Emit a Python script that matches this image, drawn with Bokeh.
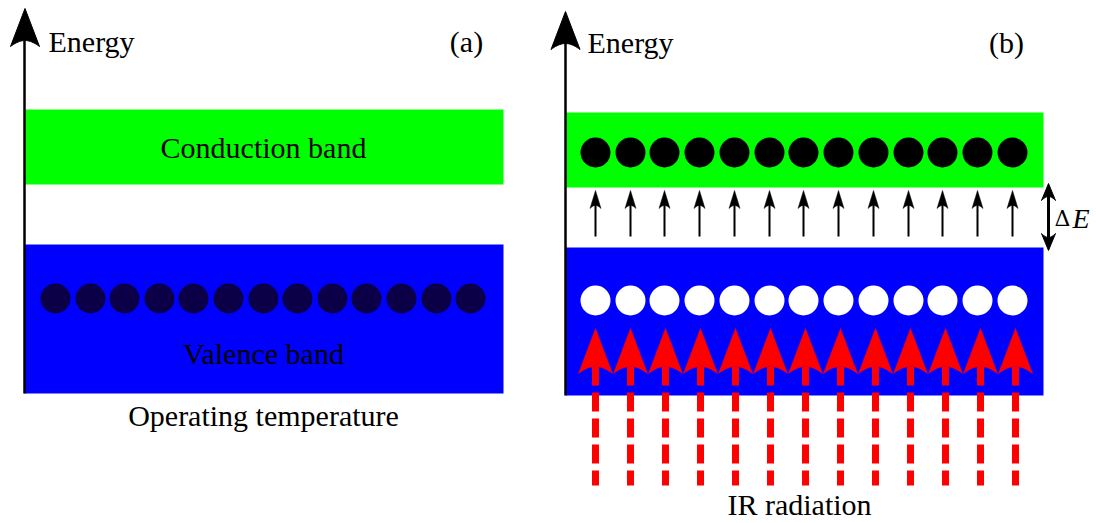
from bokeh.plotting import figure
from bokeh.models import Range1d
from bokeh.core.properties import value
from bokeh.embed import file_html
from bokeh.resources import INLINE

# ---------------- data (diagram positions in image pixels) ----------------
electrons_a_x = [55, 90, 124, 159, 193, 228, 263, 297, 332, 366, 401, 436, 470]
electrons_b_x = [595, 630, 664, 699, 734, 769, 803, 838, 873, 908, 942, 977, 1012]
ir_x = [595, 630, 665, 700, 735, 770, 805, 840, 875, 910, 945, 980, 1015]

# bands: left, right, top, bottom
band_left = [24, 24, 565, 565]
band_right = [503, 503, 1043, 1043]
band_top = [109, 244, 112, 247]
band_bottom = [184, 393, 187, 395]
band_color = ["#00ff00", "#0000ff", "#00ff00", "#0000ff"]

labels = ["Energy", "(a)", "Conduction band", "Valence band", "Operating temperature",
          "Energy", "(b)", "IR radiation"]
label_x = [48, 466, 263, 263, 263, 587, 1006, 799]
label_y = [41, 41, 147, 353, 415, 42, 42, 504]
label_align = ["left", "center", "center", "center", "center", "left", "center", "center"]

FONT = value("Liberation Serif")

p = figure(width=1096, height=523, x_range=Range1d(0, 1096), y_range=Range1d(523, 0),
           output_backend="svg", toolbar_location=None, x_axis_type=None, y_axis_type=None,
           min_border=0, outline_line_color=None)
p.grid.visible = False


def stealth(xc, tip_y, length, half_w, notch, s=1, n=10):
    """Return polygon xs, ys of a stealth arrow head; s=1 points up on screen."""
    base_y = tip_y + s * length
    notch_y = base_y - s * notch
    xs = [xc, xc + half_w]
    ys = [tip_y, base_y]
    cx, cy = xc + half_w * 0.45, notch_y
    for i in range(1, n + 1):
        t = i / n
        xs.append((1 - t) ** 2 * (xc + half_w) + 2 * (1 - t) * t * cx + t ** 2 * xc)
        ys.append((1 - t) ** 2 * base_y + 2 * (1 - t) * t * cy + t ** 2 * notch_y)
    cx = xc - half_w * 0.45
    for i in range(1, n + 1):
        t = i / n
        xs.append((1 - t) ** 2 * xc + 2 * (1 - t) * t * cx + t ** 2 * (xc - half_w))
        ys.append((1 - t) ** 2 * notch_y + 2 * (1 - t) * t * cy + t ** 2 * base_y)
    return xs, ys


# bands
p.quad(left=band_left, right=band_right, top=band_top, bottom=band_bottom,
       fill_color=band_color, line_color=None)

# energy axes
p.segment(x0=[24, 565], y0=[393, 395], x1=[24, 565], y1=[30, 32], line_color="black", line_width=2.5)
hx, hy = [], []
for xc, ty in [(24.5, 8), (565, 11)]:
    a, b = stealth(xc, ty, 38, 14.5, 6)
    hx.append(a); hy.append(b)
p.patches(hx, hy, fill_color="black", line_color="black", line_width=1)

# electrons
p.scatter(electrons_a_x, [298] * len(electrons_a_x), size=30, fill_color="#0b0048", line_color=None)
p.scatter(electrons_b_x, [152] * len(electrons_b_x), size=30, fill_color="black", line_color=None)
p.scatter(electrons_b_x, [300] * len(electrons_b_x), size=30, fill_color="white", line_color=None)

# small excitation arrows
p.segment(x0=electrons_b_x, y0=[236] * 13, x1=electrons_b_x, y1=[200] * 13, line_color="black", line_width=2)
sx, sy = [], []
for xc in electrons_b_x:
    a, b = stealth(xc, 190, 18, 5.5, 3)
    sx.append(a); sy.append(b)
p.patches(sx, sy, fill_color="black", line_color="black", line_width=0.5)

# IR radiation arrows
p.segment(x0=ir_x, y0=[366] * 13, x1=ir_x, y1=[485] * 13, line_color="#ff0000", line_width=7,
          line_dash="19 7", line_cap="butt")
rx, ry = [], []
for xc in ir_x:
    a, b = stealth(xc, 328, 45, 17, 7)
    rx.append(a); ry.append(b)
p.patches(rx, ry, fill_color="#ff0000", line_color="#ff0000", line_width=0.5)

# Delta E double arrow
p.segment(x0=[1048], y0=[195], x1=[1048], y1=[238], line_color="black", line_width=3)
dx, dy = [], []
for ty, s in [(183, 1), (250, -1)]:
    a, b = stealth(1048, ty, 17, 7, 4, s=s)
    dx.append(a); dy.append(b)
p.patches(dx, dy, fill_color="black", line_color="black", line_width=1)
p.text(x=[1054], y=[218], text=["Δ"], text_font=value("DejaVu Serif"), text_font_size="22px",
       text_align="left", text_baseline="alphabetic", text_color="black")
p.text(x=[1072], y=[218], text=["E"], text_font=FONT, text_font_style="italic", text_font_size="28px",
       text_align="left", text_baseline="alphabetic", text_color="black")

# texts
for t, x, y, al in zip(labels, label_x, label_y, label_align):
    p.text(x=[x], y=[y], text=[t], text_font=FONT, text_font_size="30px", text_align=al,
           text_baseline="alphabetic", text_color="black")

open("out.html", "w").write(file_html(p, INLINE))
